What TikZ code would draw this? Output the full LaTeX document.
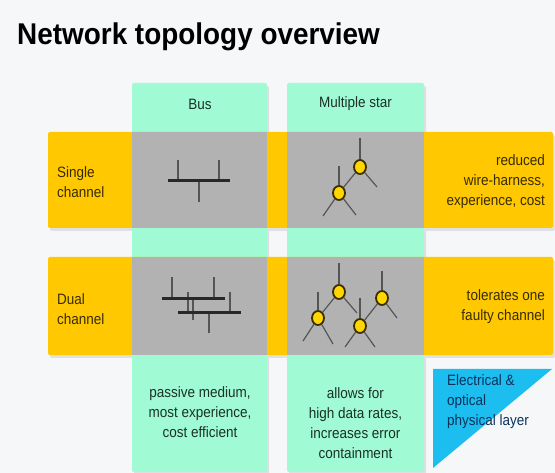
\documentclass[tikz,border=0pt]{standalone}
\usepackage{fontspec}
\setmainfont[FakeStretch=0.9]{Liberation Sans}
\newfontfamily\titlefont[FakeStretch=0.93]{Liberation Sans}
\usetikzlibrary{shapes.geometric}
\definecolor{bgc}{RGB}{246,247,248}
\definecolor{shadowc}{RGB}{222,224,226}
\definecolor{mint}{RGB}{160,250,212}
\definecolor{amber}{RGB}{255,200,0}
\definecolor{cellgray}{RGB}{178,178,178}
\definecolor{skyblue}{RGB}{28,190,240}
\definecolor{nodeyellow}{RGB}{255,214,0}
\definecolor{nodeedge}{RGB}{58,46,0}
\definecolor{stubgray}{RGB}{85,85,85}
\definecolor{bardark}{RGB}{40,40,40}
\definecolor{txtorange}{RGB}{55,44,0}
\definecolor{txtgreen}{RGB}{25,50,36}
\definecolor{txtblue}{RGB}{10,50,92}
\tikzset{
  body/.style={font=\fontsize{15}{20}\selectfont, inner sep=0pt},
  colbox/.style={fill=mint, rounded corners=2pt},
  bandbox/.style={fill=amber, rounded corners=2pt},
  shadowbox/.style={fill=shadowc, rounded corners=2pt},
  cellbox/.style={fill=cellgray},
  starnode/.style={ellipse, draw=nodeedge, line width=1.8pt, fill=nodeyellow,
    minimum width=12pt, minimum height=14pt, inner sep=0pt},
  spoke/.style={draw=stubgray, line width=1.2pt},
  stub/.style={draw=stubgray, line width=1.3pt},
  busbar/.style={draw=bardark, line width=3pt},
}
\begin{document}
\begin{tikzpicture}[x=1pt,y=-1pt]
\useasboundingbox (0,0) rectangle (555,473);
\fill[bgc] (0,0) rectangle (555,473);

% title
\node[anchor=base west, inner sep=0pt, font=\titlefont\bfseries\fontsize{30}{34}\selectfont] (title) at (17,45) {Network topology overview};

% shadows
\path[shadowbox] (134,86) rectangle (269,475);
\path[shadowbox] (289,86) rectangle (426,475);
\path[shadowbox] (50,135) rectangle (555,231);
\path[shadowbox] (50,260) rectangle (555,358);

% columns
\path[colbox] (132,83) rectangle (267,472);
\path[colbox] (287,83) rectangle (424,472);
% bands
\path[bandbox] (48,132) rectangle (553,228);
\path[bandbox] (48,257) rectangle (553,355);
% gray cells
\path[cellbox] (132,132) rectangle (267,228);
\path[cellbox] (287,132) rectangle (424,228);
\path[cellbox] (132,257) rectangle (267,355);
\path[cellbox] (287,257) rectangle (424,355);
% triangle
\fill[skyblue] (433,369) -- (552,369) -- (433,468) -- cycle;

% headers
\node[body, text=txtgreen] (hbus) at (200,104) {Bus};
\node[body, text=txtgreen] (hstar) at (355.5,104) {Multiple star};

% row labels
\node[body, text=txtorange, anchor=west, align=left] (rsingle) at (57,182) {Single\\channel};
\node[body, text=txtorange, anchor=west, align=left] (rdual) at (57,309) {Dual\\channel};

% right texts
\node[body, text=txtorange, anchor=east, align=right] (tsingle) at (545,182) {reduced\\wire-harness,\\experience, cost};
\node[body, text=txtorange, anchor=east, align=right] (tdual) at (545,307) {tolerates one\\faulty channel};

% bottom texts
\node[body, text=txtgreen, align=center] (bbus) at (200,412) {passive medium,\\most experience,\\cost efficient};
\node[body, text=txtgreen, align=center] (bstar) at (355.5,423) {allows for\\high data rates,\\increases error\\containment};
\node[body, text=txtblue, anchor=west, align=left] (tphys) at (447,402) {Electrical \&\\optical\\physical layer};

% single bus
\coordinate (s1a) at (178,160); \coordinate (s1b) at (178,181);
\coordinate (s2a) at (219,160); \coordinate (s2b) at (219,181);
\coordinate (s3a) at (199,181); \coordinate (s3b) at (199,202);
\coordinate (sbl) at (168,181); \coordinate (sbr) at (230,181);
\draw[stub] (s1a) -- (s1b);
\draw[stub] (s2a) -- (s2b);
\draw[stub] (s3a) -- (s3b);
\draw[busbar] (sbl) -- (sbr);

% dual bus
\coordinate (d1a) at (172,277); \coordinate (d1b) at (172,299);
\coordinate (d2a) at (214,277); \coordinate (d2b) at (214,299);
\coordinate (d3a) at (188,292); \coordinate (d3b) at (188,313);
\coordinate (d4a) at (193,299); \coordinate (d4b) at (193,320);
\coordinate (d5a) at (230,292); \coordinate (d5b) at (230,313);
\coordinate (d6a) at (209,313); \coordinate (d6b) at (209,333);
\coordinate (b1l) at (162,299); \coordinate (b1r) at (225,299);
\coordinate (b2l) at (178,313); \coordinate (b2r) at (241,313);
\foreach \s in {1,...,6} {\draw[stub] (d\s a) -- (d\s b);}
\draw[busbar] (b1l) -- (b1r);
\draw[busbar] (b2l) -- (b2r);

% single star
\node[starnode] (sA) at (360,167) {};
\node[starnode] (sB) at (339,193) {};
\coordinate (sAu) at (360,138); \coordinate (sAd) at (377,187);
\coordinate (sBu) at (339,166); \coordinate (sBl) at (323,216); \coordinate (sBr) at (356,215);
\draw[spoke] (sA) -- (sAu);
\draw[spoke] (sA) -- (sAd);
\draw[spoke] (sA) -- (sB);
\draw[spoke] (sB) -- (sBu);
\draw[spoke] (sB) -- (sBl);
\draw[spoke] (sB) -- (sBr);

% dual star
\node[starnode] (n1) at (318,318) {};
\node[starnode] (n2) at (339,292) {};
\node[starnode] (n3) at (360,326) {};
\node[starnode] (n4) at (382,298) {};
\coordinate (n1u) at (318,292); \coordinate (n1l) at (303,341); \coordinate (n1r) at (333,344);
\coordinate (n2u) at (339,263); \coordinate (n2r) at (357,313);
\coordinate (n3u) at (360,298); \coordinate (n3l) at (345,347); \coordinate (n3r) at (375,347);
\coordinate (n4u) at (382,271); \coordinate (n4r) at (397,318);
\draw[spoke] (n1) -- (n1u);
\draw[spoke] (n1) -- (n1l);
\draw[spoke] (n1) -- (n1r);
\draw[spoke] (n2) -- (n2u);
\draw[spoke] (n2) -- (n2r);
\draw[spoke] (n2) -- (n1);
\draw[spoke] (n3) -- (n3u);
\draw[spoke] (n3) -- (n3l);
\draw[spoke] (n3) -- (n3r);
\draw[spoke] (n4) -- (n4u);
\draw[spoke] (n4) -- (n4r);
\draw[spoke] (n4) -- (n3);
\end{tikzpicture}
\end{document}
